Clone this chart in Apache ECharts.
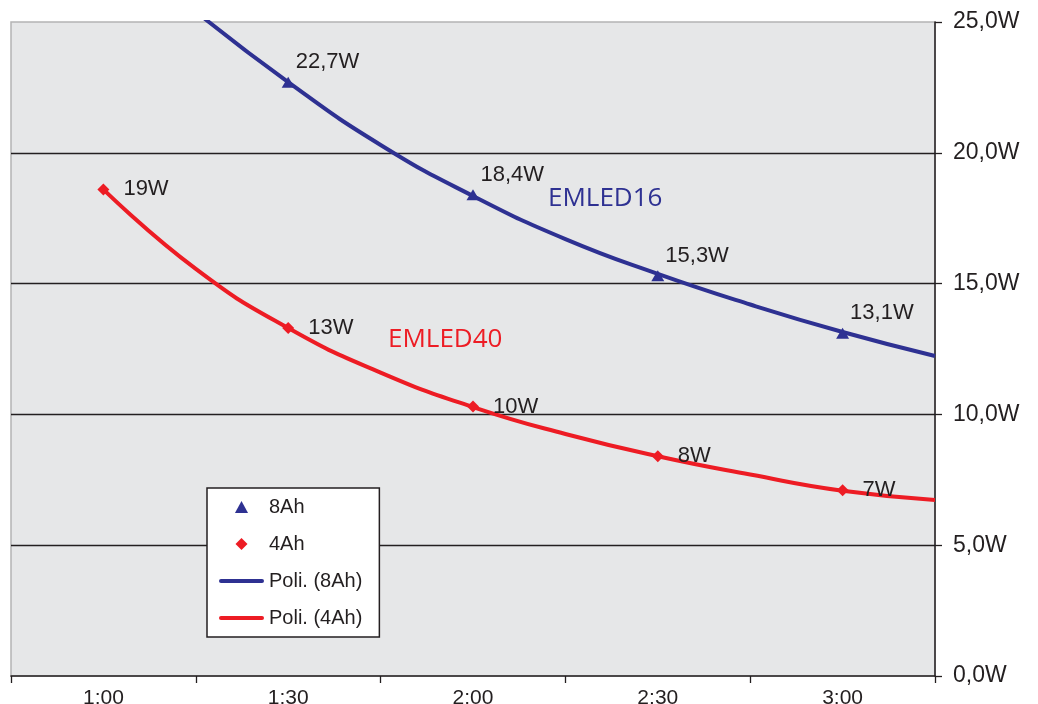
<!DOCTYPE html>
<html>
<head>
<meta charset="utf-8">
<script src="https://cdn.jsdelivr.net/npm/echarts@6/dist/echarts.min.js"></script>
<style>
html,body{margin:0;padding:0;background:#fff;}
#chart{width:1038px;height:704px;}
</style>
</head>
<body>
<div id="chart"></div>
<script>
// Categories (time)
var categories = ['1:00', '1:30', '2:00', '2:30', '3:00'];

// Measured points (plotted values)
var values8Ah = ['-', 22.7, 18.4, 15.3, 13.1];
var values4Ah = [18.6, 13.3, 10.3, 8.4, 7.1];

// Data label texts
var labels8Ah = ['', '22,7W', '18,4W', '15,3W', '13,1W'];
var labels4Ah = ['19W', '13W', '10W', '8W', '7W'];

// Polynomial trendlines (x in category units, 0..5)
var trendX8Ah = [1.0, 1.5, 2.0, 2.5, 3.0, 3.5, 4.0, 4.5, 5.0];
var trend8Ah  = [25.4, 22.7, 20.3, 18.35, 16.7, 15.37, 14.2, 13.15, 12.23];
var trendX4Ah = [0.5, 1.0, 1.5, 2.0, 2.5, 3.0, 3.5, 4.0, 4.5, 5.0];
var trend4Ah  = [18.6, 15.56, 13.3, 11.6, 10.28, 9.25, 8.4, 7.7, 7.08, 6.73];

// Y axis ticks
var yMin = 0, yMax = 25, yStep = 5;

var BLUE = '#2e3192', RED = '#ed1c24', INK = '#231f20';
var FONT = "'Liberation Sans', Arial, Helvetica, sans-serif";
var LINE_ICON = 'path://M2,0 L43,0 A2,2 0 0 1 43,4 L2,4 A2,2 0 0 1 2,0 Z';
var TRI_ICON = 'path://M6,0 L12,11 L0,11 Z';
var DIA_ICON = 'path://M6,0 L12,6 L6,12 L0,6 Z';

function pairs(xs, ys) { return xs.map(function (x, i) { return [x, ys[i]]; }); }

var chart = echarts.init(document.getElementById('chart'), null, {renderer: 'canvas'});
chart.setOption({
  animation: false,
  backgroundColor: '#ffffff',
  textStyle: {fontFamily: FONT, color: INK},
  grid: {
    left: 11, right: 103, top: 22, bottom: 28,
    show: true, backgroundColor: '#e6e7e8', borderColor: '#b4b4b4', borderWidth: 1.5,
    containLabel: false, outerBoundsMode: 'none'
  },
  legend: {
    orient: 'vertical', left: 207, top: 488,
    backgroundColor: '#ffffff', borderColor: INK, borderWidth: 1.5,
    padding: [9, 17, 9, 12],
    itemWidth: 45, itemHeight: 12, itemGap: 17,
    symbolKeepAspect: true,
    textStyle: {fontFamily: FONT, fontSize: 20, color: INK},
    data: [
      {name: '8Ah', icon: TRI_ICON},
      {name: '4Ah', icon: DIA_ICON},
      {name: 'Poli. (8Ah)', icon: LINE_ICON},
      {name: 'Poli. (4Ah)', icon: LINE_ICON}
    ]
  },
  xAxis: [{
    type: 'category', data: categories, boundaryGap: true,
    axisLine: {show: true, onZero: false, lineStyle: {color: INK, width: 1.5}},
    axisTick: {show: true, length: 7, lineStyle: {color: INK, width: 1.3}},
    axisLabel: {fontFamily: FONT, fontSize: 21, color: INK, margin: 12},
    splitLine: {show: false}
  }, {
    type: 'value', min: 0, max: 5, show: false
  }],
  yAxis: {
    type: 'value', position: 'right', min: yMin, max: yMax, interval: yStep,
    axisLine: {show: true, onZero: false, lineStyle: {color: INK, width: 1.5}},
    axisTick: {show: true, length: 7, lineStyle: {color: INK, width: 1.3}},
    axisLabel: {
      fontFamily: FONT, fontSize: 23, color: INK, margin: 18,
      formatter: function (v) { return v.toFixed(1).replace('.', ',') + 'W'; }
    },
    splitLine: {show: true, showMaxLine: false, showMinLine: false, lineStyle: {color: INK, width: 1.3}}
  },
  series: [{
    name: 'Poli. (8Ah)', type: 'line', xAxisIndex: 1,
    data: pairs(trendX8Ah, trend8Ah), smooth: true, symbol: 'none',
    lineStyle: {color: BLUE, width: 4}, itemStyle: {color: BLUE}, z: 2
  }, {
    name: 'Poli. (4Ah)', type: 'line', xAxisIndex: 1,
    data: pairs(trendX4Ah, trend4Ah), smooth: true, symbol: 'none',
    lineStyle: {color: RED, width: 4}, itemStyle: {color: RED}, z: 2
  }, {
    name: '8Ah', type: 'scatter', xAxisIndex: 0,
    data: values8Ah, symbol: 'triangle', symbolSize: [13, 11],
    itemStyle: {color: BLUE, opacity: 1}, z: 5,
    label: {
      show: true, position: 'right', distance: 0, offset: [1, -20],
      fontFamily: FONT, fontSize: 22, color: INK,
      formatter: function (p) { return labels8Ah[p.dataIndex]; }
    }
  }, {
    name: '4Ah', type: 'scatter', xAxisIndex: 0,
    data: values4Ah, symbol: 'diamond', symbolSize: 12,
    itemStyle: {color: RED, opacity: 1}, z: 5,
    label: {
      show: true, position: 'right', distance: 0, offset: [14, 0],
      fontFamily: FONT, fontSize: 22, color: INK,
      formatter: function (p) { return labels4Ah[p.dataIndex]; }
    }
  }],
  graphic: [{
    type: 'text', left: 548, top: 186, z: 10,
    style: {text: 'EMLED16', fill: BLUE, font: "26px 'Open Sans', 'Noto Sans', sans-serif"}
  }, {
    type: 'text', left: 388, top: 327, z: 10,
    style: {text: 'EMLED40', fill: RED, font: "26px 'Open Sans', 'Noto Sans', sans-serif"}
  }]
});
</script>
</body>
</html>
